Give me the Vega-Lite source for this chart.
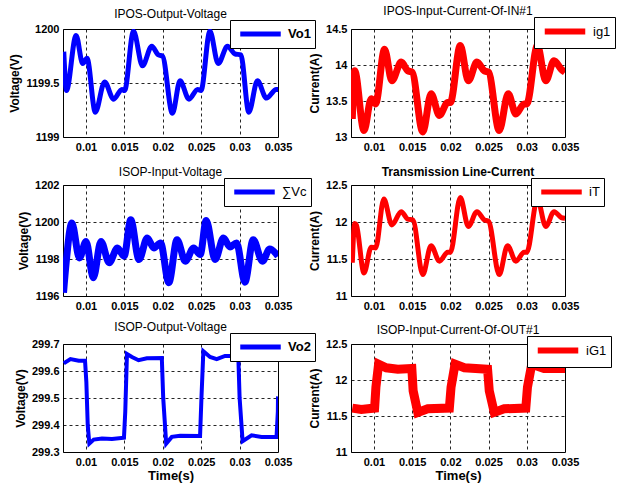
{
  "$schema": "https://vega.github.io/schema/vega-lite/v6.json",
  "background": "white",
  "padding": {"left": 8, "top": 4, "right": 0, "bottom": 0},
  "config": {
    "font": "Liberation Sans",
    "view": {"stroke": "black", "strokeWidth": 1},
    "axis": {
      "domain": false,
      "ticks": false,
      "grid": true,
      "gridColor": "black",
      "gridDash": [3, 3],
      "gridOpacity": 0.85,
      "gridWidth": 1,
      "labelFont": "Liberation Sans",
      "labelFontSize": 11,
      "labelFontWeight": "bold",
      "labelColor": "black",
      "labelPadding": 4,
      "labelFlush": false,
      "labelOverlap": false,
      "titleFont": "Liberation Sans",
      "titleFontSize": 12,
      "titleFontWeight": "bold",
      "titleColor": "black"
    },
    "title": {"font": "Liberation Sans", "fontSize": 12, "fontWeight": "normal", "color": "black", "offset": 3, "dy": 4},
    "legend": {
      "orient": "none",
      "title": null,
      "symbolType": "M-0.5,0H4.9",
      "symbolSize": 225,
      "strokeColor": "black",
      "fillColor": "white",
      "padding": 4,
      "labelFont": "Liberation Sans",
      "labelFontSize": 13,
      "labelColor": "black",
      "labelOffset": 34
    }
  },
  "columns": 2,
  "spacing": {"row": 48, "column": 73},
  "bounds": "flush",
  "resolve": {"scale": {"color": "independent"}, "legend": {"color": "independent"}},
  "concat": [
    {
      "width": 215, "height": 108,
      "title": "IPOS-Output-Voltage",
      "data": {"values": [
        {"t": 0.0071, "v": 1199.79, "s": "Vo1"},
        {"t": 0.00745, "v": 1199.43, "s": "Vo1"},
        {"t": 0.0087, "v": 1199.94, "s": "Vo1"},
        {"t": 0.00957, "v": 1199.68, "s": "Vo1"},
        {"t": 0.01013, "v": 1199.73, "s": "Vo1"},
        {"t": 0.01121, "v": 1199.23, "s": "Vo1"},
        {"t": 0.01242, "v": 1199.51, "s": "Vo1"},
        {"t": 0.01359, "v": 1199.35, "s": "Vo1"},
        {"t": 0.01467, "v": 1199.44, "s": "Vo1"},
        {"t": 0.01502, "v": 1199.43, "s": "Vo1"},
        {"t": 0.01618, "v": 1199.98, "s": "Vo1"},
        {"t": 0.01735, "v": 1199.66, "s": "Vo1"},
        {"t": 0.01856, "v": 1199.84, "s": "Vo1"},
        {"t": 0.01943, "v": 1199.76, "s": "Vo1"},
        {"t": 0.01995, "v": 1199.75, "s": "Vo1"},
        {"t": 0.02125, "v": 1199.22, "s": "Vo1"},
        {"t": 0.02224, "v": 1199.52, "s": "Vo1"},
        {"t": 0.02341, "v": 1199.35, "s": "Vo1"},
        {"t": 0.02453, "v": 1199.44, "s": "Vo1"},
        {"t": 0.02497, "v": 1199.43, "s": "Vo1"},
        {"t": 0.02613, "v": 1199.98, "s": "Vo1"},
        {"t": 0.02721, "v": 1199.68, "s": "Vo1"},
        {"t": 0.02842, "v": 1199.84, "s": "Vo1"},
        {"t": 0.02938, "v": 1199.77, "s": "Vo1"},
        {"t": 0.03016, "v": 1199.76, "s": "Vo1"},
        {"t": 0.0312, "v": 1199.23, "s": "Vo1"},
        {"t": 0.03232, "v": 1199.52, "s": "Vo1"},
        {"t": 0.03349, "v": 1199.36, "s": "Vo1"},
        {"t": 0.03478, "v": 1199.44, "s": "Vo1"},
        {"t": 0.035, "v": 1199.44, "s": "Vo1"}
      ]},
      "mark": {"type": "line", "strokeWidth": 5, "interpolate": "monotone", "clip": true},
      "encoding": {
        "x": {"field": "t", "type": "quantitative", "scale": {"domain": [0.007, 0.035], "nice": false, "zero": false}, "axis": {"values": [0.01, 0.015, 0.02, 0.025, 0.03, 0.035], "format": "~g", "title": null}},
        "y": {"field": "v", "type": "quantitative", "scale": {"domain": [1199, 1200], "nice": false, "zero": false}, "axis": {"values": [1199, 1199.5, 1200], "format": "~g", "title": "Voltage(V)"}},
        "color": {"field": "s", "type": "nominal", "scale": {"range": ["#0000ff"]}, "legend": {"legendX": 167, "legendY": -9, "labelFontWeight": "bold", "symbolStrokeWidth": 5}}
      }
    },
    {
      "width": 214, "height": 108,
      "title": "IPOS-Input-Current-Of-IN#1",
      "data": {"values": [
        {"t": 0.00717, "v": 13.25, "s": "ig1"},
        {"t": 0.00748, "v": 13.92, "s": "ig1"},
        {"t": 0.0087, "v": 13.09, "s": "ig1"},
        {"t": 0.00965, "v": 13.53, "s": "ig1"},
        {"t": 0.01022, "v": 13.46, "s": "ig1"},
        {"t": 0.01139, "v": 14.22, "s": "ig1"},
        {"t": 0.01235, "v": 13.78, "s": "ig1"},
        {"t": 0.01357, "v": 14.04, "s": "ig1"},
        {"t": 0.01443, "v": 13.92, "s": "ig1"},
        {"t": 0.015, "v": 13.9, "s": "ig1"},
        {"t": 0.01639, "v": 13.07, "s": "ig1"},
        {"t": 0.01748, "v": 13.6, "s": "ig1"},
        {"t": 0.01857, "v": 13.3, "s": "ig1"},
        {"t": 0.01965, "v": 13.48, "s": "ig1"},
        {"t": 0.02, "v": 13.48, "s": "ig1"},
        {"t": 0.0213, "v": 14.27, "s": "ig1"},
        {"t": 0.02235, "v": 13.78, "s": "ig1"},
        {"t": 0.02348, "v": 14.04, "s": "ig1"},
        {"t": 0.02443, "v": 13.92, "s": "ig1"},
        {"t": 0.025, "v": 13.9, "s": "ig1"},
        {"t": 0.02639, "v": 13.09, "s": "ig1"},
        {"t": 0.02757, "v": 13.6, "s": "ig1"},
        {"t": 0.02857, "v": 13.32, "s": "ig1"},
        {"t": 0.02965, "v": 13.46, "s": "ig1"},
        {"t": 0.03, "v": 13.46, "s": "ig1"},
        {"t": 0.03139, "v": 14.27, "s": "ig1"},
        {"t": 0.03248, "v": 13.78, "s": "ig1"},
        {"t": 0.03357, "v": 14.06, "s": "ig1"},
        {"t": 0.03452, "v": 13.94, "s": "ig1"},
        {"t": 0.035, "v": 13.9, "s": "ig1"}
      ]},
      "mark": {"type": "line", "strokeWidth": 7, "interpolate": "monotone", "clip": true},
      "encoding": {
        "x": {"field": "t", "type": "quantitative", "scale": {"domain": [0.007, 0.035], "nice": false, "zero": false}, "axis": {"values": [0.01, 0.015, 0.02, 0.025, 0.03, 0.035], "format": "~g", "title": null}},
        "y": {"field": "v", "type": "quantitative", "scale": {"domain": [13, 14.5], "nice": false, "zero": false}, "axis": {"values": [13, 13.5, 14, 14.5], "format": "~g", "title": "Current(A)"}},
        "color": {"field": "s", "type": "nominal", "scale": {"range": ["#ff0000"]}, "legend": {"legendX": 183, "legendY": -12, "symbolStrokeWidth": 6}}
      }
    },
    {
      "width": 215, "height": 111,
      "title": "ISOP-Input-Voltage",
      "data": {"values": [
        {"t": 0.00707, "v": 1196.18, "s": "∑Vc"},
        {"t": 0.00741, "v": 1197.8, "s": "∑Vc"},
        {"t": 0.00815, "v": 1199.94, "s": "∑Vc"},
        {"t": 0.00914, "v": 1198.06, "s": "∑Vc"},
        {"t": 0.01, "v": 1198.95, "s": "∑Vc"},
        {"t": 0.01095, "v": 1196.98, "s": "∑Vc"},
        {"t": 0.01194, "v": 1198.95, "s": "∑Vc"},
        {"t": 0.01302, "v": 1197.8, "s": "∑Vc"},
        {"t": 0.01409, "v": 1198.6, "s": "∑Vc"},
        {"t": 0.01496, "v": 1198.15, "s": "∑Vc"},
        {"t": 0.01582, "v": 1200.12, "s": "∑Vc"},
        {"t": 0.0169, "v": 1197.97, "s": "∑Vc"},
        {"t": 0.01797, "v": 1199.13, "s": "∑Vc"},
        {"t": 0.01884, "v": 1198.6, "s": "∑Vc"},
        {"t": 0.0197, "v": 1198.87, "s": "∑Vc"},
        {"t": 0.02078, "v": 1196.72, "s": "∑Vc"},
        {"t": 0.02185, "v": 1199.04, "s": "∑Vc"},
        {"t": 0.02293, "v": 1197.88, "s": "∑Vc"},
        {"t": 0.02401, "v": 1198.6, "s": "∑Vc"},
        {"t": 0.02487, "v": 1198.24, "s": "∑Vc"},
        {"t": 0.02565, "v": 1200.08, "s": "∑Vc"},
        {"t": 0.02681, "v": 1197.97, "s": "∑Vc"},
        {"t": 0.02789, "v": 1199.13, "s": "∑Vc"},
        {"t": 0.02875, "v": 1198.65, "s": "∑Vc"},
        {"t": 0.02961, "v": 1198.87, "s": "∑Vc"},
        {"t": 0.03069, "v": 1196.75, "s": "∑Vc"},
        {"t": 0.03177, "v": 1199.04, "s": "∑Vc"},
        {"t": 0.03297, "v": 1197.88, "s": "∑Vc"},
        {"t": 0.03392, "v": 1198.54, "s": "∑Vc"},
        {"t": 0.035, "v": 1198.15, "s": "∑Vc"}
      ]},
      "mark": {"type": "line", "strokeWidth": 7, "interpolate": "monotone", "clip": true},
      "encoding": {
        "x": {"field": "t", "type": "quantitative", "scale": {"domain": [0.007, 0.035], "nice": false, "zero": false}, "axis": {"values": [0.01, 0.015, 0.02, 0.025, 0.03, 0.035], "format": "~g", "title": null}},
        "y": {"field": "v", "type": "quantitative", "scale": {"domain": [1196, 1202], "nice": false, "zero": false}, "axis": {"values": [1196, 1198, 1200, 1202], "format": "~g", "title": "Voltage(V)"}},
        "color": {"field": "s", "type": "nominal", "scale": {"range": ["#0000ff"]}, "legend": {"legendX": 161, "legendY": -7, "symbolStrokeWidth": 5}}
      }
    },
    {
      "width": 214, "height": 111,
      "title": {"text": "Transmission  Line-Current", "fontWeight": "bold"},
      "data": {"values": [
        {"t": 0.00717, "v": 11.45, "s": "iT"},
        {"t": 0.00748, "v": 11.98, "s": "iT"},
        {"t": 0.0077, "v": 11.96, "s": "iT"},
        {"t": 0.0087, "v": 11.31, "s": "iT"},
        {"t": 0.00965, "v": 11.66, "s": "iT"},
        {"t": 0.01022, "v": 11.65, "s": "iT"},
        {"t": 0.0113, "v": 12.31, "s": "iT"},
        {"t": 0.01235, "v": 11.96, "s": "iT"},
        {"t": 0.01357, "v": 12.14, "s": "iT"},
        {"t": 0.01443, "v": 12.04, "s": "iT"},
        {"t": 0.01509, "v": 12.03, "s": "iT"},
        {"t": 0.01639, "v": 11.29, "s": "iT"},
        {"t": 0.01748, "v": 11.68, "s": "iT"},
        {"t": 0.01857, "v": 11.47, "s": "iT"},
        {"t": 0.01965, "v": 11.59, "s": "iT"},
        {"t": 0.02, "v": 11.59, "s": "iT"},
        {"t": 0.0213, "v": 12.33, "s": "iT"},
        {"t": 0.02235, "v": 11.94, "s": "iT"},
        {"t": 0.02348, "v": 12.14, "s": "iT"},
        {"t": 0.02443, "v": 12.03, "s": "iT"},
        {"t": 0.025, "v": 12.01, "s": "iT"},
        {"t": 0.02639, "v": 11.29, "s": "iT"},
        {"t": 0.02748, "v": 11.68, "s": "iT"},
        {"t": 0.02857, "v": 11.47, "s": "iT"},
        {"t": 0.02965, "v": 11.59, "s": "iT"},
        {"t": 0.03, "v": 11.59, "s": "iT"},
        {"t": 0.03139, "v": 12.31, "s": "iT"},
        {"t": 0.03248, "v": 11.94, "s": "iT"},
        {"t": 0.03357, "v": 12.14, "s": "iT"},
        {"t": 0.03452, "v": 12.06, "s": "iT"},
        {"t": 0.035, "v": 12.05, "s": "iT"}
      ]},
      "mark": {"type": "line", "strokeWidth": 5, "interpolate": "monotone", "clip": true},
      "encoding": {
        "x": {"field": "t", "type": "quantitative", "scale": {"domain": [0.007, 0.035], "nice": false, "zero": false}, "axis": {"values": [0.01, 0.015, 0.02, 0.025, 0.03, 0.035], "format": "~g", "title": null}},
        "y": {"field": "v", "type": "quantitative", "scale": {"domain": [11, 12.5], "nice": false, "zero": false}, "axis": {"values": [11, 11.5, 12, 12.5], "format": "~g", "title": "Current(A)"}},
        "color": {"field": "s", "type": "nominal", "scale": {"range": ["#ff0000"]}, "legend": {"legendX": 180, "legendY": -7, "symbolStrokeWidth": 5}}
      }
    },
    {
      "width": 215, "height": 108,
      "title": "ISOP-Output-Voltage",
      "data": {"values": [
        {"t": 0.0071, "v": 299.628, "s": "Vo2"},
        {"t": 0.00797, "v": 299.644, "s": "Vo2"},
        {"t": 0.00905, "v": 299.638, "s": "Vo2"},
        {"t": 0.00987, "v": 299.638, "s": "Vo2"},
        {"t": 0.01004, "v": 299.56, "s": "Vo2"},
        {"t": 0.01022, "v": 299.4, "s": "Vo2"},
        {"t": 0.01043, "v": 299.331, "s": "Vo2"},
        {"t": 0.011, "v": 299.346, "s": "Vo2"},
        {"t": 0.01208, "v": 299.35, "s": "Vo2"},
        {"t": 0.01338, "v": 299.348, "s": "Vo2"},
        {"t": 0.01494, "v": 299.353, "s": "Vo2"},
        {"t": 0.01511, "v": 299.45, "s": "Vo2"},
        {"t": 0.01533, "v": 299.663, "s": "Vo2"},
        {"t": 0.01598, "v": 299.652, "s": "Vo2"},
        {"t": 0.01684, "v": 299.64, "s": "Vo2"},
        {"t": 0.01792, "v": 299.647, "s": "Vo2"},
        {"t": 0.01987, "v": 299.648, "s": "Vo2"},
        {"t": 0.02005, "v": 299.5, "s": "Vo2"},
        {"t": 0.02044, "v": 299.331, "s": "Vo2"},
        {"t": 0.02117, "v": 299.356, "s": "Vo2"},
        {"t": 0.02225, "v": 299.36, "s": "Vo2"},
        {"t": 0.02485, "v": 299.359, "s": "Vo2"},
        {"t": 0.02503, "v": 299.5, "s": "Vo2"},
        {"t": 0.02528, "v": 299.673, "s": "Vo2"},
        {"t": 0.02615, "v": 299.652, "s": "Vo2"},
        {"t": 0.02702, "v": 299.644, "s": "Vo2"},
        {"t": 0.0281, "v": 299.656, "s": "Vo2"},
        {"t": 0.02983, "v": 299.656, "s": "Vo2"},
        {"t": 0.03, "v": 299.5, "s": "Vo2"},
        {"t": 0.03039, "v": 299.34, "s": "Vo2"},
        {"t": 0.03156, "v": 299.362, "s": "Vo2"},
        {"t": 0.03286, "v": 299.356, "s": "Vo2"},
        {"t": 0.03481, "v": 299.356, "s": "Vo2"},
        {"t": 0.03498, "v": 299.45, "s": "Vo2"},
        {"t": 0.035, "v": 299.506, "s": "Vo2"}
      ]},
      "mark": {"type": "line", "strokeWidth": 4, "interpolate": "linear", "clip": true},
      "encoding": {
        "x": {"field": "t", "type": "quantitative", "scale": {"domain": [0.007, 0.035], "nice": false, "zero": false}, "axis": {"values": [0.01, 0.015, 0.02, 0.025, 0.03, 0.035], "format": "~g", "title": "Time(s)", "titleFontSize": 13, "titlePadding": 2}},
        "y": {"field": "v", "type": "quantitative", "scale": {"domain": [299.3, 299.7], "nice": false, "zero": false}, "axis": {"values": [299.3, 299.4, 299.5, 299.6, 299.7], "format": "~g", "title": "Voltage(V)"}},
        "color": {"field": "s", "type": "nominal", "scale": {"range": ["#0000ff"]}, "legend": {"legendX": 167, "legendY": -11, "labelFontWeight": "bold", "symbolStrokeWidth": 5}}
      }
    },
    {
      "width": 214, "height": 108,
      "title": "ISOP-Input-Current-Of-OUT#1",
      "data": {"values": [
        {"t": 0.00717, "v": 11.61, "s": "iG1"},
        {"t": 0.00835, "v": 11.59, "s": "iG1"},
        {"t": 0.00922, "v": 11.6, "s": "iG1"},
        {"t": 0.01009, "v": 11.61, "s": "iG1"},
        {"t": 0.01026, "v": 11.9, "s": "iG1"},
        {"t": 0.01061, "v": 12.22, "s": "iG1"},
        {"t": 0.01161, "v": 12.17, "s": "iG1"},
        {"t": 0.01313, "v": 12.15, "s": "iG1"},
        {"t": 0.01496, "v": 12.16, "s": "iG1"},
        {"t": 0.01513, "v": 11.85, "s": "iG1"},
        {"t": 0.01574, "v": 11.55, "s": "iG1"},
        {"t": 0.01704, "v": 11.6, "s": "iG1"},
        {"t": 0.01987, "v": 11.61, "s": "iG1"},
        {"t": 0.02009, "v": 11.9, "s": "iG1"},
        {"t": 0.02061, "v": 12.22, "s": "iG1"},
        {"t": 0.02183, "v": 12.17, "s": "iG1"},
        {"t": 0.02487, "v": 12.15, "s": "iG1"},
        {"t": 0.02509, "v": 11.85, "s": "iG1"},
        {"t": 0.02574, "v": 11.55, "s": "iG1"},
        {"t": 0.02704, "v": 11.6, "s": "iG1"},
        {"t": 0.02987, "v": 11.61, "s": "iG1"},
        {"t": 0.03009, "v": 11.9, "s": "iG1"},
        {"t": 0.03065, "v": 12.22, "s": "iG1"},
        {"t": 0.03226, "v": 12.16, "s": "iG1"},
        {"t": 0.035, "v": 12.16, "s": "iG1"}
      ]},
      "mark": {"type": "line", "strokeWidth": 9, "interpolate": "linear", "clip": true},
      "encoding": {
        "x": {"field": "t", "type": "quantitative", "scale": {"domain": [0.007, 0.035], "nice": false, "zero": false}, "axis": {"values": [0.01, 0.015, 0.02, 0.025, 0.03, 0.035], "format": "~g", "title": "Time(s)", "titleFontSize": 13, "titlePadding": 2}},
        "y": {"field": "v", "type": "quantitative", "scale": {"domain": [11, 12.5], "nice": false, "zero": false}, "axis": {"values": [11, 11.5, 12, 12.5], "format": "~g", "title": "Current(A)"}},
        "color": {"field": "s", "type": "nominal", "scale": {"range": ["#ff0000"]}, "legend": {"legendX": 176, "legendY": -8, "symbolStrokeWidth": 6}}
      }
    }
  ]
}
